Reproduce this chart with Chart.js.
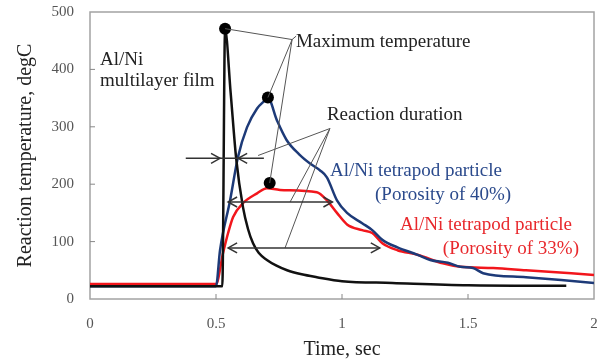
<!DOCTYPE html>
<html>
<head>
<meta charset="utf-8">
<script src="https://cdn.jsdelivr.net/npm/chart.js@4.4.0/dist/chart.umd.min.js"></script>
<style>
    html, body { margin: 0; padding: 0; background: #fff; }
    #wrap { width: 602px; height: 364px; }
</style>
</head>
<body>
<div id="wrap"><canvas id="myChart"></canvas></div>
<script>
// Al/Ni multilayer film
const filmTime = [0, 0.525, 0.536, 0.558, 0.58, 0.607, 0.627, 0.647, 0.67, 0.702, 0.74, 0.782, 0.84, 0.9, 1.0, 1.2, 1.5, 1.89];
const filmTemp = [22, 22, 470, 360, 245, 160, 122, 97, 80, 68, 58, 50, 43, 38, 31, 28, 24, 23];

// tetrapod particle, porosity 40%
const p40Time = [0, 0.5, 0.516, 0.556, 0.587, 0.623, 0.663, 0.687, 0.706, 0.742, 0.78, 0.83, 0.873, 0.913, 0.94, 0.98, 1.02, 1.08, 1.12, 1.16, 1.22, 1.30, 1.35, 1.42, 1.47, 1.52, 1.56, 1.73, 1.87, 2.0];
const p40Temp = [22, 22, 85, 172, 247, 299, 332, 343, 350, 311, 277, 252, 236, 224, 212, 172, 150, 132, 120, 103, 90, 77, 68, 63, 56, 54, 45, 38, 33, 28];

// tetrapod particle, porosity 33%
const p33Time = [0, 0.5, 0.528, 0.548, 0.568, 0.607, 0.663, 0.702, 0.754, 0.9, 0.94, 0.98, 1.02, 1.08, 1.12, 1.16, 1.22, 1.30, 1.40, 1.47, 1.6, 1.73, 2.0];
const p33Temp = [26, 26, 80, 115, 143, 167, 184, 193, 190, 186, 172, 150, 130, 120, 115, 97, 85, 77, 62, 56, 54, 50, 42];

// maximum temperature markers
const maxTime = [0.536, 0.706, 0.713];
const maxTemp = [471, 351, 202];

const xTicks = [0, 0.5, 1, 1.5, 2];
const yTicks = [0, 100, 200, 300, 400, 500];

const serif = "'Liberation Serif', 'Times New Roman', serif";
const blueLine = '#1d3a78';
const redLine = '#f2161c';

function pairs(xs, ys) {
    return xs.map((t, i) => ({ x: t, y: ys[i] }));
}

// frecce, linee di richiamo e testi
const notesPlugin = {
    id: 'notes',
    beforeDatasetsDraw(chart) {
        const { ctx, chartArea: a, scales: { x, y } } = chart;
        ctx.save();
        ctx.strokeStyle = '#a3a3a3';
        ctx.lineWidth = 1.5;
        ctx.strokeRect(a.left, a.top, a.right - a.left, a.bottom - a.top);
        // inward ticks
        ctx.strokeStyle = '#888';
        ctx.lineWidth = 1;
        ctx.beginPath();
        xTicks.slice(1, -1).forEach(t => {
            const px = x.getPixelForValue(t);
            ctx.moveTo(px, a.bottom);
            ctx.lineTo(px, a.bottom - 5);
        });
        yTicks.slice(1, -1).forEach(v => {
            const py = y.getPixelForValue(v);
            ctx.moveTo(a.left, py);
            ctx.lineTo(a.left + 5, py);
        });
        ctx.stroke();
        ctx.restore();
    },
    afterDatasetsDraw(chart) {
        const { ctx, scales: { x, y } } = chart;
        const px = t => x.getPixelForValue(t);
        const py = v => y.getPixelForValue(v);

        ctx.save();

        function seg(t1, v1, t2, v2) {
            ctx.beginPath();
            ctx.moveTo(px(t1), py(v1));
            ctx.lineTo(px(t2), py(v2));
            ctx.stroke();
        }

        function head(t, v, dir) {
            const hx = px(t), hy = py(v);
            ctx.beginPath();
            ctx.moveTo(hx - dir * 9, hy - 5);
            ctx.lineTo(hx, hy);
            ctx.lineTo(hx - dir * 9, hy + 5);
            ctx.stroke();
        }

        // leader lines
        ctx.strokeStyle = '#555';
        ctx.lineWidth = 1;
        seg(0.802, 452, maxTime[0], maxTemp[0]);
        seg(0.802, 452, maxTime[1], maxTemp[1]);
        seg(0.802, 452, maxTime[2], maxTemp[2]);
        seg(0.802, 452, 0.818, 458);
        seg(0.952, 297, 0.667, 250);
        seg(0.952, 297, 0.794, 169);
        seg(0.952, 297, 0.774, 89);

        // reaction duration arrows
        ctx.strokeStyle = '#333';
        ctx.lineWidth = 1.5;
        seg(0.38, 245, 0.69, 245);
        head(0.516, 245, 1);
        head(0.588, 245, -1);

        seg(0.548, 169, 0.962, 169);
        head(0.548, 169, -1);
        head(0.962, 169, 1);

        seg(0.548, 89, 1.15, 89);
        head(0.548, 89, -1);
        head(1.15, 89, 1);

        // texts
        ctx.font = '19px ' + serif;
        ctx.textAlign = 'left';
        ctx.textBaseline = 'middle';
        ctx.fillStyle = '#222';
        ctx.fillText('Al/Ni', px(0.04), py(416));
        ctx.fillText('multilayer film', px(0.04), py(379));
        ctx.fillText('Maximum temperature', px(0.817), py(447));
        ctx.fillText('Reaction duration', px(0.94), py(320));

        ctx.fillStyle = '#2b4a8c';
        ctx.fillText('Al/Ni tetrapod particle', px(0.952), py(223));
        ctx.fillText('(Porosity of 40%)', px(1.131), py(181));

        ctx.fillStyle = '#e8282c';
        ctx.fillText('Al/Ni tetrapod particle', px(1.23), py(129));
        ctx.fillText('(Porosity of 33%)', px(1.40), py(87));

        ctx.restore();
    }
};

new Chart(
    document.getElementById('myChart'),
    {
        type: 'line',
        data: {
            datasets: [
                {
                    label: 'Maximum temperature',
                    data: pairs(maxTime, maxTemp),
                    showLine: false,
                    pointRadius: 6,
                    pointBackgroundColor: '#000',
                    pointBorderWidth: 0
                },
                {
                    label: 'Al/Ni multilayer film',
                    data: pairs(filmTime, filmTemp),
                    borderColor: '#111',
                    borderWidth: 2.5,
                    pointRadius: 0,
                    cubicInterpolationMode: 'monotone'
                },
                {
                    label: 'Al/Ni tetrapod particle (Porosity of 40%)',
                    data: pairs(p40Time, p40Temp),
                    borderColor: blueLine,
                    borderWidth: 2.5,
                    pointRadius: 0,
                    cubicInterpolationMode: 'monotone'
                },
                {
                    label: 'Al/Ni tetrapod particle (Porosity of 33%)',
                    data: pairs(p33Time, p33Temp),
                    borderColor: redLine,
                    borderWidth: 2.5,
                    pointRadius: 0,
                    cubicInterpolationMode: 'monotone'
                }
            ]
        },
        options: {
            responsive: true,
            maintainAspectRatio: false,
            animation: false,
            layout: { padding: { top: 12, right: 8, left: 0, bottom: 0 } },
            plugins: {
                legend: { display: false },
                tooltip: { enabled: false }
            },
            scales: {
                x: {
                    type: 'linear',
                    min: 0,
                    max: 2,
                    afterFit: s => {
                        s.height = 65;
                        s.paddingLeft = 0;
                        s.paddingRight = 0;
                    },
                    afterBuildTicks: s => { s.ticks = xTicks.map(v => ({ value: v })); },
                    grid: { display: false },
                    border: { display: false },
                    ticks: {
                        color: '#555',
                        padding: 8,
                        font: { family: serif, size: 15 },
                        maxRotation: 0,
                        callback: v => String(v)
                    },
                    title: {
                        display: true,
                        text: 'Time, sec',
                        color: '#222',
                        font: { family: serif, size: 20 },
                        padding: { top: 0, bottom: 2 }
                    }
                },
                y: {
                    min: 0,
                    max: 500,
                    afterFit: s => {
                        s.width = 90;
                        s.paddingTop = 0;
                        s.paddingBottom = 0;
                    },
                    afterBuildTicks: s => { s.ticks = yTicks.map(v => ({ value: v })); },
                    grid: { display: false },
                    border: { display: false },
                    ticks: {
                        color: '#555',
                        padding: 8,
                        font: { family: serif, size: 15 },
                        callback: v => String(v)
                    },
                    title: {
                        display: true,
                        text: 'Reaction temperature, degC',
                        color: '#222',
                        font: { family: serif, size: 20 },
                        padding: { top: 14, bottom: 0 }
                    }
                }
            }
        },
        plugins: [notesPlugin]
    }
);
</script>
</body>
</html>
